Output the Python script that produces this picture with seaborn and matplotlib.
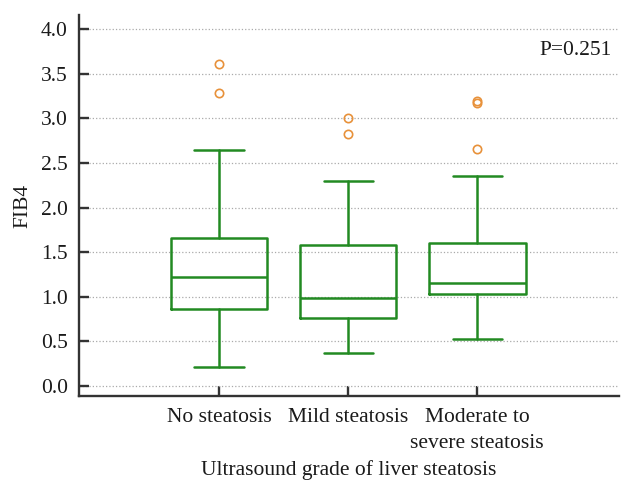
import matplotlib
matplotlib.use("Agg")
import matplotlib.pyplot as plt
import seaborn as sns

# ── DATA ──────────────────────────────────────────────────────────────────────
groups   = ["No steatosis", "Mild steatosis", "Moderate to\nsevere steatosis"]
whislo   = [0.21, 0.37, 0.53]
q1       = [0.86, 0.76, 1.03]
medians  = [1.22, 0.99, 1.16]
q3       = [1.66, 1.58, 1.60]
whishi   = [2.65, 2.30, 2.36]
outliers = [[3.29, 3.61], [2.82, 3.00], [2.66, 3.17, 3.20]]
y_ticks  = [0.0, 0.5, 1.0, 1.5, 2.0, 2.5, 3.0, 3.5, 4.0]
p_text   = "P=0.251"
# ─────────────────────────────────────────────────────────────────────────────

GREEN  = "#228a22"
ORANGE = "#e8913a"
DARK   = "#333333"
FS     = 15.5

sns.set_theme(style="ticks")
plt.rcParams["font.family"] = ["Liberation Serif", "DejaVu Serif"]

stats = []
for i, name in enumerate(groups):
    stats.append(dict(label=name, whislo=whislo[i], q1=q1[i], med=medians[i],
                      q3=q3[i], whishi=whishi[i], fliers=outliers[i]))

fig = plt.figure(figsize=(6.4, 5.01), dpi=100)
ax = fig.add_axes([0.1234, 0.2096, 0.844, 0.760])

line = dict(color=GREEN, linewidth=1.8)
ax.bxp(stats, positions=range(len(groups)), widths=0.75, capwidths=0.38,
       boxprops=line, whiskerprops=line, capprops=line, medianprops=line,
       flierprops=dict(marker="o", markersize=6, markerfacecolor="none",
                       markeredgecolor=ORANGE, markeredgewidth=1.2),
       showfliers=True, patch_artist=False)

ax.set_xlim(-1.085, 3.10)
ax.set_ylim(-0.112, 4.157)
ax.set_yticks(y_ticks)
ax.set_yticklabels([f"{v:.1f}" for v in y_ticks])
ax.set_xticks(range(len(groups)))
ax.set_xticklabels(groups, linespacing=1.45)

ax.yaxis.grid(True, linestyle=":", color="#aaaaaa", linewidth=0.9)
ax.set_axisbelow(True)

sns.despine(ax=ax)
for side in ["left", "bottom"]:
    ax.spines[side].set_color(DARK)
    ax.spines[side].set_linewidth(1.7)
ax.tick_params(direction="in", length=7, width=1.7, color=DARK,
               labelsize=FS, labelcolor="#1a1a1a")
ax.tick_params(axis="y", pad=8)
ax.tick_params(axis="x", pad=9)

ax.set_ylabel("FIB4", fontsize=FS, color="#1a1a1a", labelpad=6)
ax.set_xlabel("Ultrasound grade of liver steatosis", fontsize=FS,
              color="#1a1a1a", labelpad=5)

ax.text(0.987, 0.908, p_text, transform=ax.transAxes, ha="right",
        va="center", fontsize=FS, color="#1a1a1a")

fig.savefig("out.png", dpi=100)
